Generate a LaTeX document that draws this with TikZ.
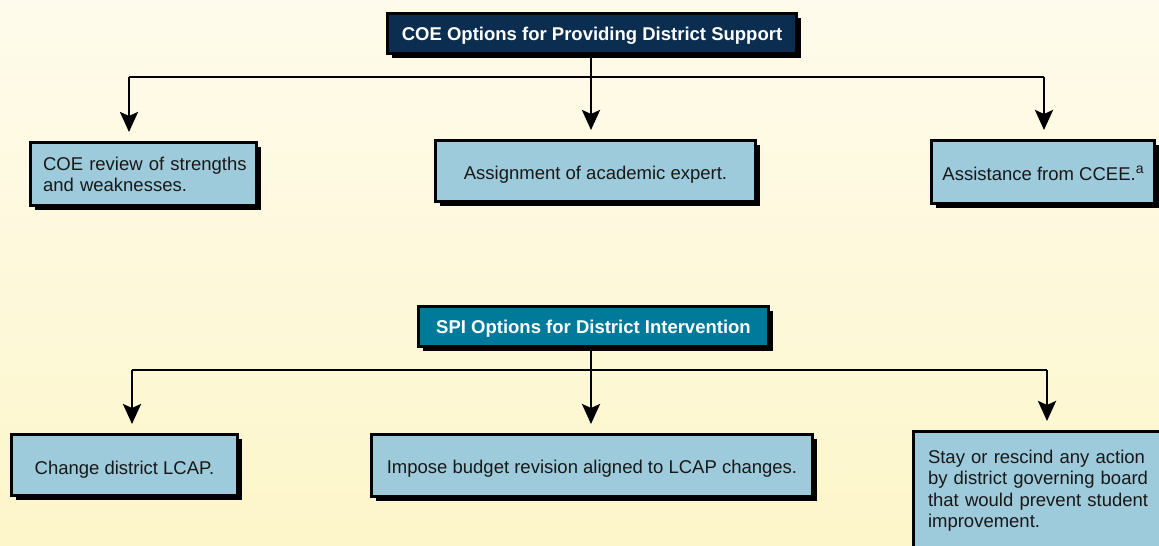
\documentclass[tikz,border=0pt]{standalone}
\usepackage{fontspec}
\setmainfont{Liberation Sans}
\usetikzlibrary{arrows.meta,shadows,calc}
\definecolor{bgtop}{RGB}{254,251,236}
\definecolor{bgbot}{RGB}{253,246,202}
\definecolor{boxblue}{RGB}{158,203,219}
\definecolor{navy}{RGB}{11,46,80}
\definecolor{teal}{RGB}{0,122,155}
\definecolor{ink}{RGB}{24,24,24}
\tikzset{
  shade1/.style={drop shadow={shadow xshift=4pt,shadow yshift=-4pt,fill=black,opacity=1}},
  optbox/.style={draw=black,line width=3pt,fill=boxblue,shade1,text=ink,
    font=\fontsize{18.5pt}{21.5pt}\selectfont,inner sep=0pt,align=center},
  oneline/.style={text height=16pt,text depth=0pt},
  headbox/.style={draw=black,line width=3pt,shade1,text=white,
    font=\fontsize{18.5pt}{21.5pt}\selectfont\bfseries,inner sep=0pt,align=center,
    text height=16pt,text depth=3pt},
  conn/.style={line width=2.8pt,draw=black},
  arr/.style={conn,-{Stealth[length=20pt,width=18pt,inset=4pt]},shorten >=9pt},
}
\begin{document}
\begin{tikzpicture}[x=1pt,y=-1pt]
\useasboundingbox (0,0) rectangle (1159,546);
\begin{scope}
\clip (0,0) rectangle (1159,546);
\shade[top color=bgtop,bottom color=bgbot] (0,0) rectangle (1159,546);

% top section
\node[headbox,fill=navy,minimum width=409pt,minimum height=40pt] (t1) at (592,33.5)
  {COE Options for Providing District Support};
\node[optbox,minimum width=226pt,minimum height=63pt,text width=201pt,align=left,
      text height=17.4pt,text depth=25.4pt] (b1) at (143.5,174)
  {\mbox{COE review of strengths}\\and weaknesses.};
\node[optbox,oneline,minimum width=320pt,minimum height=61pt] (b2) at (595.5,171)
  {Assignment of academic expert.};
\node[optbox,oneline,minimum width=223pt,minimum height=63pt] (b3) at (1043,172)
  {Assistance from CCEE.\raisebox{6.5pt}{\fontsize{14pt}{14pt}\selectfont a}};

\coordinate (j1) at (591,77);
\coordinate (c1) at (129,77);
\coordinate (c3) at (1044,77);
\draw[conn] (t1.south -| j1) -- (j1);
\draw[conn] (c1) -- (c3);
\draw[arr] (c1) -- (c1 |- b1.north);
\draw[arr] (j1) -- (j1 |- b2.north);
\draw[arr] (c3) -- (c3 |- b3.north);

% bottom section
\node[headbox,fill=teal,minimum width=350pt,minimum height=40pt] (t2) at (593.5,326.5)
  {SPI Options for District Intervention};
\node[optbox,minimum width=226pt,minimum height=61pt,text height=18pt,text depth=0pt] (b4) at (124.5,465)
  {Change district LCAP.};
\node[optbox,oneline,minimum width=441pt,minimum height=62pt] (b5) at (592,465.5)
  {Impose budget revision aligned to LCAP changes.};
\node[optbox,anchor=north west,text width=235pt,align=left,inner xsep=14.5pt,inner ysep=18.5pt] (b6) at (912,430)
  {Stay or rescind any action\\by district governing board\\that would prevent student\\improvement.};

\coordinate (j2) at (591,370);
\coordinate (c4) at (132,370);
\coordinate (c6) at (1047,370);
\draw[conn] (t2.south -| j2) -- (j2);
\draw[conn] (c4) -- (c6);
\draw[arr] (c4) -- (c4 |- b4.north);
\draw[arr] (j2) -- (j2 |- b5.north);
\draw[arr] (c6) -- (c6 |- b6.north);
\end{scope}
\end{tikzpicture}
\end{document}
